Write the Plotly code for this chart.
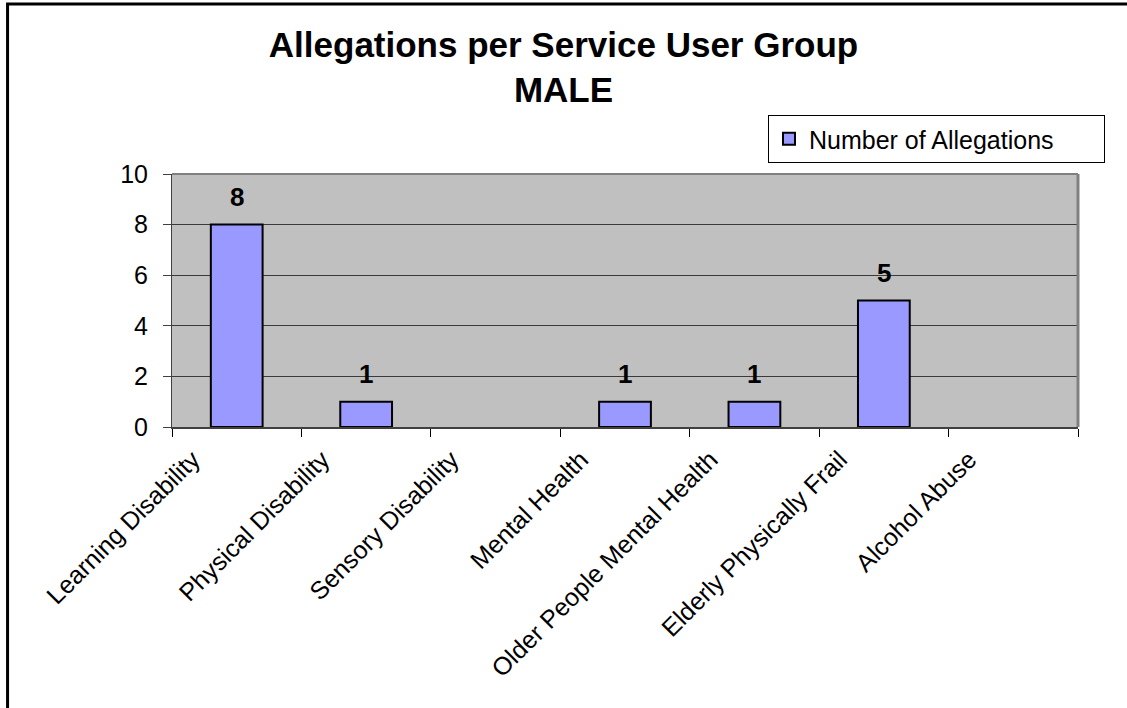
import plotly.graph_objects as go

# Values
categories = [
    "Learning Disability",
    "Physical Disability",
    "Sensory Disability",
    "Mental Health",
    "Older People Mental Health",
    "Elderly Physically Frail",
    "Alcohol Abuse",
]
allegations = [8, 1, 0, 1, 1, 5, 0]
y_ticks = [0, 2, 4, 6, 8, 10]

_FONT = "Liberation Sans, Arial, sans-serif"
_BAR = "#9999FF"
_PLOT_BG = "#C0C0C0"
_GRID = "#3A3A3A"

fig = go.Figure()

fig.add_trace(
    go.Bar(
        x=categories,
        y=allegations,
        name="Number of Allegations",
        # no outline on empty categories, so nothing shows at zero
        marker=dict(
            color=_BAR,
            line=dict(color="#000000", width=[2 if v else 0 for v in allegations]),
        ),
        hoverinfo="x+y",
    )
)

# --- Data labels (zero values are left unlabelled, as in the original) ---
for cat, val in zip(categories, allegations):
    if val == 0:
        continue
    fig.add_annotation(
        x=cat,
        y=val,
        text=f"<b>{val}</b>",
        showarrow=False,
        yanchor="bottom",
        yshift=11,
        font=dict(family=_FONT, size=26, color="#000000"),
    )

# --- Plot-area frame: light grey top and right edges ---
fig.add_shape(type="line", xref="paper", yref="paper", x0=0, x1=1, y0=1, y1=1,
              line=dict(color="#808080", width=2), layer="above")
fig.add_shape(type="line", xref="paper", yref="paper", x0=1, x1=1, y0=0, y1=1,
              line=dict(color="#808080", width=3), layer="above")

# --- Outer chart border (only left and top visible) ---
fig.add_shape(type="rect", xref="paper", yref="paper",
              x0=-0.1815, x1=1.08, y0=-1.2, y1=1.672,
              line=dict(color="#000000", width=3), fillcolor="rgba(0,0,0,0)")

fig.update_layout(
    width=1127,
    height=708,
    title=dict(
        text="<b>Allegations per Service User Group<br>MALE</b>",
        x=0.5,
        xref="container",
        xanchor="center",
        y=0.92,
        yref="container",
        yanchor="top",
        font=dict(family=_FONT, size=35, color="#000000"),
    ),
    xaxis=dict(
        type="category",
        tickson="boundaries",
        ticks="outside",
        ticklen=8,
        tickcolor="#000000",
        tickangle=-45,
        ticklabelshift=-44,
        ticklabelstandoff=6,
        tickfont=dict(family=_FONT, size=25, color="#000000"),
        showline=True,
        linecolor="#404040",
        linewidth=2,
        showgrid=False,
        automargin=False,
        fixedrange=True,
    ),
    yaxis=dict(
        range=[0, 10],
        tickvals=y_ticks,
        ticks="outside",
        ticklen=8,
        tickcolor="#404040",
        ticklabelstandoff=10,
        tickfont=dict(family=_FONT, size=25, color="#000000"),
        showline=True,
        linecolor="#404040",
        linewidth=1,
        showgrid=True,
        gridcolor=_GRID,
        gridwidth=1,
        zeroline=False,
        automargin=False,
        fixedrange=True,
    ),
    bargap=0.6,
    showlegend=True,
    legend=dict(
        orientation="h",
        x=1.0298,
        xanchor="right",
        y=1.233,
        yanchor="top",
        bgcolor="#FFFFFF",
        bordercolor="#000000",
        borderwidth=1,
        entrywidth=290,
        font=dict(family=_FONT, size=25, color="#000000"),
    ),
    plot_bgcolor=_PLOT_BG,
    paper_bgcolor="#FFFFFF",
    margin=dict(l=172, r=49, t=174, b=281),
)

# drop the default page margin so the figure sits at the window's corner
fig.write_html(
    "out.html",
    config={"displayModeBar": False},
    post_script="document.body.style.margin='0';",
)
